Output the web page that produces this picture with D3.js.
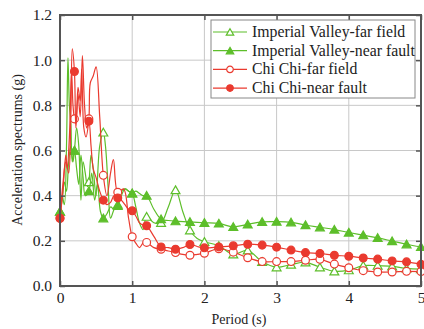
<!DOCTYPE html>
<html>
<head>
<meta charset="utf-8">
<script src="https://cdn.jsdelivr.net/npm/d3@7"></script>
<style>
  body { margin: 0; background: #fff; }
  text { font-family: "Liberation Serif", "Times New Roman", serif; fill: #222; }
</style>
</head>
<body>
<svg id="chart" width="424" height="329"></svg>
<script>
// Imperial Valley - far field
const ivFarT = [0, 0.03, 0.06, 0.09, 0.12, 0.15, 0.18, 0.2, 0.23, 0.26, 0.29, 0.32, 0.35, 0.38, 0.4, 0.43, 0.46, 0.5, 0.55, 0.6, 0.63, 0.67, 0.7, 0.75, 0.8, 0.85, 0.9, 0.95, 1.0, 1.05, 1.1, 1.15, 1.2, 1.3, 1.4, 1.5, 1.6, 1.7, 1.8, 1.9, 2.0, 2.2, 2.4, 2.6, 2.8, 3.0, 3.2, 3.4, 3.6, 3.8, 4.0, 4.2, 4.4, 4.6, 4.8, 5.0];
const ivFarV = [0.33, 0.38, 0.46, 0.42, 0.55, 0.62, 0.55, 0.60, 0.70, 0.62, 0.38, 0.55, 0.50, 0.44, 0.46, 0.58, 0.52, 0.40, 0.62, 0.68, 0.62, 0.42, 0.30, 0.34, 0.36, 0.42, 0.43, 0.42, 0.41, 0.35, 0.28, 0.25, 0.307, 0.28, 0.28, 0.35, 0.425, 0.33, 0.247, 0.21, 0.196, 0.178, 0.14, 0.158, 0.107, 0.083, 0.095, 0.105, 0.083, 0.065, 0.07, 0.09, 0.09, 0.087, 0.078, 0.075];

// Imperial Valley - near fault
const ivNearT = [0, 0.03, 0.06, 0.09, 0.11, 0.13, 0.15, 0.17, 0.2, 0.23, 0.26, 0.29, 0.32, 0.35, 0.4, 0.44, 0.48, 0.52, 0.56, 0.6, 0.65, 0.7, 0.75, 0.8, 0.85, 0.9, 0.95, 1.0, 1.05, 1.1, 1.15, 1.2, 1.3, 1.4, 1.5, 1.6, 1.8, 2.0, 2.2, 2.4, 2.6, 2.8, 3.0, 3.2, 3.4, 3.6, 3.8, 4.0, 4.2, 4.4, 4.6, 4.8, 5.0];
const ivNearV = [0.33, 0.40, 0.36, 0.62, 1.01, 0.80, 0.72, 0.55, 0.60, 0.52, 0.45, 0.58, 0.48, 0.40, 0.42, 0.50, 0.38, 0.45, 0.33, 0.30, 0.32, 0.35, 0.34, 0.355, 0.40, 0.43, 0.42, 0.41, 0.42, 0.41, 0.40, 0.40, 0.34, 0.296, 0.29, 0.287, 0.284, 0.28, 0.277, 0.262, 0.273, 0.284, 0.285, 0.282, 0.27, 0.26, 0.25, 0.237, 0.225, 0.213, 0.199, 0.185, 0.173];

// Chi Chi - far field
const ccFarT = [0, 0.04, 0.08, 0.1, 0.13, 0.16, 0.18, 0.2, 0.22, 0.25, 0.28, 0.3, 0.33, 0.36, 0.4, 0.42, 0.46, 0.5, 0.55, 0.6, 0.65, 0.7, 0.74, 0.8, 0.88, 0.95, 1.0, 1.05, 1.1, 1.15, 1.2, 1.3, 1.4, 1.5, 1.6, 1.7, 1.8, 1.9, 2.0, 2.2, 2.4, 2.6, 2.8, 3.0, 3.2, 3.4, 3.6, 3.8, 4.0, 4.2, 4.4, 4.6, 4.8, 5.0];
const ccFarV = [0.30, 0.42, 0.58, 0.52, 0.66, 0.95, 0.80, 0.74, 0.72, 0.88, 0.82, 0.96, 0.70, 0.66, 0.74, 0.90, 0.93, 0.97, 0.75, 0.49, 0.40, 0.50, 0.56, 0.415, 0.43, 0.30, 0.218, 0.19, 0.17, 0.19, 0.193, 0.17, 0.163, 0.155, 0.148, 0.14, 0.136, 0.14, 0.145, 0.165, 0.15, 0.125, 0.108, 0.108, 0.108, 0.114, 0.118, 0.097, 0.081, 0.068, 0.062, 0.062, 0.065, 0.064];

// Chi Chi - near fault
const ccNearT = [0, 0.04, 0.08, 0.12, 0.15, 0.17, 0.2, 0.22, 0.25, 0.28, 0.31, 0.34, 0.37, 0.4, 0.43, 0.46, 0.5, 0.55, 0.6, 0.65, 0.7, 0.75, 0.8, 0.85, 0.9, 0.95, 1.0, 1.05, 1.1, 1.15, 1.2, 1.3, 1.4, 1.5, 1.6, 1.7, 1.8, 1.9, 2.0, 2.2, 2.4, 2.6, 2.8, 3.0, 3.2, 3.4, 3.6, 3.8, 4.0, 4.2, 4.4, 4.6, 4.8, 5.0];
const ccNearV = [0.30, 0.45, 0.55, 0.50, 0.75, 1.05, 0.95, 0.70, 0.85, 0.75, 1.02, 0.80, 0.70, 0.73, 0.62, 0.52, 0.48, 0.42, 0.38, 0.36, 0.37, 0.40, 0.39, 0.38, 0.36, 0.34, 0.333, 0.31, 0.28, 0.27, 0.267, 0.22, 0.173, 0.17, 0.163, 0.17, 0.184, 0.175, 0.169, 0.173, 0.178, 0.185, 0.181, 0.172, 0.159, 0.148, 0.144, 0.136, 0.132, 0.124, 0.119, 0.111, 0.107, 0.096];

const xTicks = [0, 1, 2, 3, 4, 5];
const yTicks = [0.0, 0.2, 0.4, 0.6, 0.8, 1.0, 1.2];

const green = '#5dbe2a';
const red = '#ea3a2f';
const serif = '"Liberation Serif", "Times New Roman", serif';

const series = [
  { name: 'Imperial Valley-far field', t: ivFarT, v: ivFarV, color: green, shape: 'tri', filled: false },
  { name: 'Imperial Valley-near fault', t: ivNearT, v: ivNearV, color: green, shape: 'tri', filled: true },
  { name: 'Chi Chi-far field', t: ccFarT, v: ccFarV, color: red, shape: 'circ', filled: false },
  { name: 'Chi Chi-near fault', t: ccNearT, v: ccNearV, color: red, shape: 'circ', filled: true }
];

const svg = d3.select('#chart').attr('font-family', serif),
  margin = { top: 15, right: 3, bottom: 43, left: 60 },
  width = +svg.attr('width') - margin.left - margin.right,
  height = +svg.attr('height') - margin.top - margin.bottom;

const x = d3.scaleLinear().domain([0, 5]).range([0, width]);
const y = d3.scaleLinear().domain([0, 1.2]).range([height, 0]);

const g = svg.append('g')
  .attr('transform', 'translate(' + margin.left + ',' + margin.top + ')');

// grid
g.append('g')
  .selectAll('line')
  .data(xTicks.slice(1, -1))
  .enter().append('line')
    .attr('x1', d => x(d)).attr('x2', d => x(d))
    .attr('y1', 0).attr('y2', height)
    .attr('stroke', '#c8c8c8').attr('stroke-width', 1);
g.append('g')
  .selectAll('line')
  .data(yTicks.slice(1, -1))
  .enter().append('line')
    .attr('y1', d => y(d)).attr('y2', d => y(d))
    .attr('x1', 0).attr('x2', width)
    .attr('stroke', '#c8c8c8').attr('stroke-width', 1);

// curves
const line = d3.line()
  .x(d => x(d[0]))
  .y(d => y(d[1]))
  .curve(d3.curveCatmullRom.alpha(0.5));

function symbolPath(s, big) {
  return s.shape === 'tri'
    ? d3.symbol(d3.symbolTriangle, big ? 34 : 24)()
    : d3.symbol(d3.symbolCircle, big ? 48 : 34)();
}

series.forEach(function(s) {
  const pts = s.t.map((t, i) => [t, s.v[i]]);
  g.append('path')
    .datum(pts)
    .attr('fill', 'none')
    .attr('stroke', s.color)
    .attr('stroke-width', 1.2)
    .attr('d', line);

  // markers every 0.2 s
  const marks = pts.filter(p => Math.abs(p[0] * 5 - Math.round(p[0] * 5)) < 1e-6);
  g.selectAll(null)
    .data(marks)
    .enter().append('path')
      .attr('transform', d => 'translate(' + x(d[0]) + ',' + (y(d[1]) + (s.shape === 'tri' ? 1 : 0)) + ')')
      .attr('d', symbolPath(s, true))
      .attr('fill', s.filled ? s.color : '#fff')
      .attr('stroke', s.color)
      .attr('stroke-width', 1.2);
});

// axes (ticks inward, mirrored)
const axisColor = '#555';
g.append('g')
  .attr('transform', 'translate(0,' + height + ')')
  .call(d3.axisBottom(x).tickValues(xTicks).tickSize(-5).tickPadding(6).tickFormat(d3.format('d')))
  .call(a => a.select('.domain').remove());
g.append('g')
  .call(d3.axisTop(x).tickValues(xTicks).tickSize(-5).tickFormat(''))
  .call(a => a.select('.domain').remove());
g.append('g')
  .call(d3.axisLeft(y).tickValues(yTicks).tickSize(-5).tickPadding(8).tickFormat(d3.format('.1f')))
  .call(a => a.select('.domain').remove());
g.append('g')
  .attr('transform', 'translate(' + width + ',0)')
  .call(d3.axisRight(y).tickValues(yTicks).tickSize(-5).tickFormat(''))
  .call(a => a.select('.domain').remove());

g.selectAll('.tick line').attr('stroke', axisColor).attr('stroke-width', 1.5);
g.selectAll('.tick text').attr('font-size', 15.5).attr('fill', '#222').attr('font-family', serif);

g.append('rect')
  .attr('x', 0).attr('y', 0).attr('width', width).attr('height', height)
  .attr('fill', 'none').attr('stroke', axisColor).attr('stroke-width', 2);

// axis titles
svg.append('text')
  .attr('x', 239)
  .attr('y', 324)
  .attr('text-anchor', 'middle')
  .attr('font-size', 14)
  .text('Period (s)');
svg.append('text')
  .attr('transform', 'translate(22,150) rotate(-90)')
  .attr('text-anchor', 'middle')
  .attr('font-size', 14)
  .text('Acceleration spectrums (g)');

// legend
const lg = svg.append('g').attr('transform', 'translate(211,20)');
lg.append('rect')
  .attr('width', 204).attr('height', 78)
  .attr('fill', '#fff').attr('stroke', '#888').attr('stroke-width', 1);
series.forEach(function(s, i) {
  const yy = 12 + i * 18.7;
  lg.append('line')
    .attr('x1', 2).attr('x2', 36).attr('y1', yy).attr('y2', yy)
    .attr('stroke', s.color).attr('stroke-width', 1.2);
  lg.append('path')
    .attr('transform', 'translate(19,' + (yy + (s.shape === 'tri' ? 1 : 0)) + ')')
    .attr('d', symbolPath(s, false))
    .attr('fill', s.filled ? s.color : '#fff')
    .attr('stroke', s.color).attr('stroke-width', 1.2);
  lg.append('text')
    .attr('x', 41).attr('y', yy + 5)
    .attr('font-size', 15.8)
    .text(s.name);
});
</script>
</body>
</html>
